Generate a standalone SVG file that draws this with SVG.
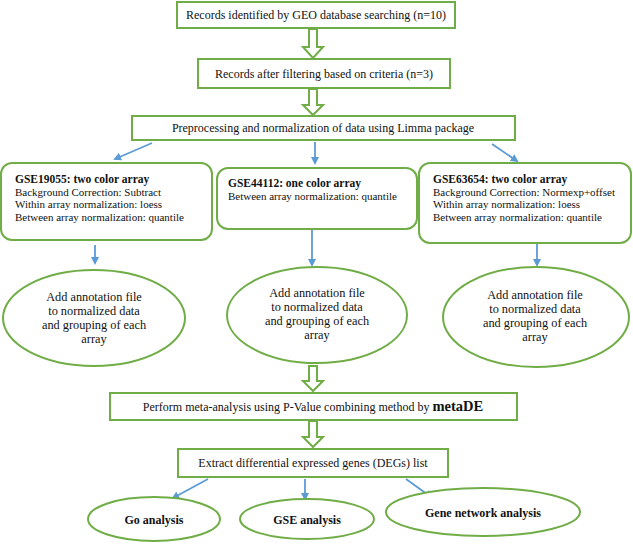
<svg xmlns="http://www.w3.org/2000/svg" width="633" height="544" viewBox="0 0 633 544" font-family="'Liberation Serif', 'Times New Roman', 'DejaVu Serif', serif">
<defs>
<marker id="ah" markerWidth="8" markerHeight="8" refX="6" refY="4" orient="auto" markerUnits="userSpaceOnUse">
<path d="M0,0 L8,4 L0,8 z" fill="#5B9BD5"/>
</marker>
<style>
.box{fill:#fff;stroke:#70AD47;stroke-width:2}
.t{font-family:'Liberation Serif','Times New Roman','DejaVu Serif',serif;font-size:12px;fill:#111}
.s{font-size:11px}
.e{font-size:12.3px}
.c{text-anchor:middle}
.b{font-weight:bold}
.hol{fill:#fff;stroke:#70AD47;stroke-width:2;stroke-linejoin:miter}
.blue{stroke:#5B9BD5;stroke-width:1.8;fill:none;marker-end:url(#ah)}
</style>
</defs>
<rect width="633" height="544" fill="#fff"/>
<g id="connectors">
<path class="hol" d="M309,29 h8 v18 h6 l-10,11 l-10,-11 h6 z"/>
<path class="hol" d="M309,89 h8 v16 h6 l-10,10 l-10,-10 h6 z"/>
<path class="hol" d="M309,366 h8 v15 h6 l-10,10 l-10,-10 h6 z"/>
<path class="hol" d="M309,421 h8 v16 h6 l-10,10 l-10,-10 h6 z"/>
<line class="blue" x1="152" y1="143" x2="115" y2="159"/>
<line class="blue" x1="315" y1="142" x2="315" y2="163"/>
<line class="blue" x1="492" y1="144" x2="517" y2="161"/>
<line class="blue" x1="95" y1="245" x2="95" y2="263"/>
<line class="blue" x1="312" y1="230" x2="312" y2="265"/>
<line class="blue" x1="537" y1="244" x2="537" y2="265"/>
<line class="blue" x1="208" y1="479" x2="173" y2="498"/>
<line class="blue" x1="305" y1="479" x2="305" y2="499"/>
<line class="blue" x1="406" y1="479" x2="431" y2="497"/>
</g>
<g id="n1"><rect class="box" x="177" y="2" width="278" height="26"/><text class="t c" x="316" y="19">Records identified by GEO database searching (n=10)</text></g>
<g id="n2"><rect class="box" x="198" y="59" width="252" height="29"/><text class="t c" x="324" y="78">Records after filtering based on criteria (n=3)</text></g>
<g id="n3"><rect class="box" x="132" y="116" width="383" height="24"/><text class="t c" x="323" y="132">Preprocessing and normalization of data using Limma package</text></g>
<g id="n4"><rect class="box" x="1" y="163" width="211" height="77" rx="11"/>
<text class="t s" x="15" y="183"><tspan class="b" style="font-size:11.5px">GSE19055: two color array</tspan><tspan x="15" dy="12.5">Background Correction: Subtract</tspan><tspan x="15" dy="12.5">Within array normalization: loess</tspan><tspan x="15" dy="12.5">Between array normalization: quantile</tspan></text></g>
<g id="n5"><rect class="box" x="217" y="168" width="200" height="61" rx="11"/>
<text class="t s" x="228" y="187"><tspan class="b" style="font-size:11.5px">GSE44112: one color array</tspan><tspan x="228" dy="12.5">Between array normalization: quantile</tspan></text></g>
<g id="n6"><rect class="box" x="419" y="163" width="212" height="80" rx="11"/>
<text class="t s" x="433" y="183"><tspan class="b" style="font-size:11.5px">GSE63654: two color array</tspan><tspan x="433" dy="12.5">Background Correction: Normexp+offset</tspan><tspan x="433" dy="12.5">Within array normalization: loess</tspan><tspan x="433" dy="12.5">Between array normalization: quantile</tspan></text></g>
<g id="n7"><ellipse class="box" cx="94" cy="318" rx="91" ry="48"/>
<text class="t c e" x="94" y="301"><tspan>Add annotation file</tspan><tspan x="94" dy="14">to normalized data</tspan><tspan x="94" dy="14">and grouping of each</tspan><tspan x="94" dy="14">array</tspan></text></g>
<g id="n8"><ellipse class="box" cx="317" cy="315" rx="90" ry="48"/>
<text class="t c e" x="317" y="297"><tspan>Add annotation file</tspan><tspan x="317" dy="14">to normalized data</tspan><tspan x="317" dy="14">and grouping of each</tspan><tspan x="317" dy="14">array</tspan></text></g>
<g id="n9"><ellipse class="box" cx="536" cy="317" rx="93" ry="50"/>
<text class="t c e" x="535" y="299"><tspan>Add annotation file</tspan><tspan x="535" dy="14">to normalized data</tspan><tspan x="535" dy="14">and grouping of each</tspan><tspan x="535" dy="14">array</tspan></text></g>
<g id="n10"><rect class="box" x="110" y="393" width="407" height="27"/><text class="t c" x="313" y="411">Perform meta-analysis using P-Value combining method by <tspan class="b" style="font-size:14.5px">metaDE</tspan></text></g>
<g id="n11"><rect class="box" x="178" y="449" width="270" height="28"/><text class="t c" x="313" y="467">Extract differential expressed genes (DEGs) list</text></g>
<g id="n12"><ellipse class="box" cx="154" cy="519" rx="66" ry="22"/><text class="t c b" x="154" y="524">Go analysis</text></g>
<g id="n13"><ellipse class="box" cx="307" cy="519" rx="67" ry="20"/><text class="t c b" x="307" y="524">GSE analysis</text></g>
<g id="n14"><ellipse class="box" cx="483" cy="512" rx="97" ry="24"/><text class="t c b" x="483" y="517">Gene network analysis</text></g>
</svg>
